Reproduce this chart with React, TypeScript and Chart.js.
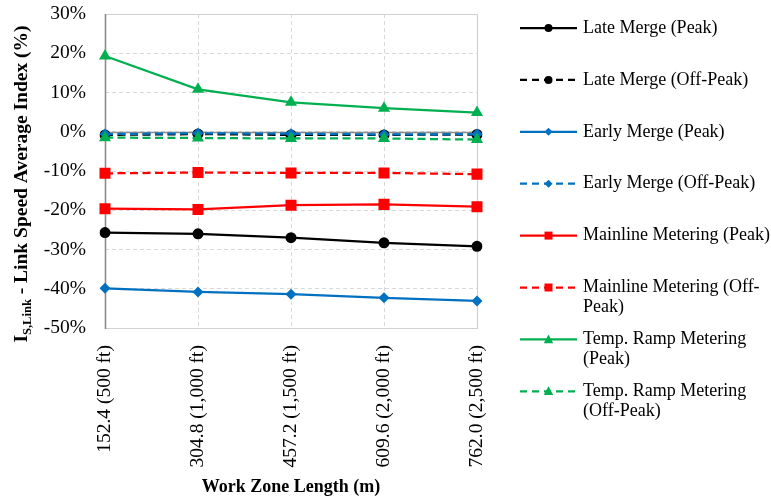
import React, { useEffect, useRef } from "react";
import { Chart, registerables } from "chart.js";

Chart.register(...registerables);

// Work zone lengths (x categories)
const lengths = [
  "152.4 (500 ft)",
  "304.8 (1,000 ft)",
  "457.2 (1,500 ft)",
  "609.6 (2,000 ft)",
  "762.0 (2,500 ft)",
];

// Link speed average index, in percent
const lateMergePeak = [-25.7, -26.0, -27.0, -28.3, -29.2];
const lateMergeOffPeak = [-0.8, -0.6, -0.8, -0.8, -0.7];
const earlyMergePeak = [-39.9, -40.8, -41.4, -42.3, -43.1];
const earlyMergeOffPeak = [-0.6, -0.4, -0.5, -0.7, -0.6];
const mainlinePeak = [-19.6, -19.8, -18.7, -18.5, -19.1];
const mainlineOffPeak = [-10.6, -10.4, -10.5, -10.5, -10.8];
const rampPeak = [19.3, 10.8, 7.5, 6.0, 4.9];
const rampOffPeak = [-1.5, -1.6, -1.7, -1.7, -2.0];

const seriesNames = [
  "Late Merge (Peak)",
  "Late Merge (Off-Peak)",
  "Early Merge (Peak)",
  "Early Merge (Off-Peak)",
  "Mainline Metering (Peak)",
  "Mainline Metering (Off-Peak)",
  "Temp. Ramp Metering (Peak)",
  "Temp. Ramp Metering (Off-Peak)",
];

// Legend text, broken into lines
const legendLines = [
  ["Late Merge (Peak)"],
  ["Late Merge (Off-Peak)"],
  ["Early Merge (Peak)"],
  ["Early Merge (Off-Peak)"],
  ["Mainline Metering (Peak)"],
  ["Mainline Metering (Off-", "Peak)"],
  ["Temp. Ramp Metering", "(Peak)"],
  ["Temp. Ramp Metering", "(Off-Peak)"],
];

const yMin = -50;
const yMax = 30;
const yStep = 10;

const xTitle = "Work Zone Length (m)";
const yTitleMain = "I";
const yTitleSub = "S,Link";
const yTitleRest = " - Link Speed Average Index (%)";

const BLACK = "#000000";
const BLUE = "#0070C0";
const RED = "#FF0000";
const GREEN = "#00B050";
const DASH = [8, 4.5];
const SERIF = "'Liberation Serif', 'Times New Roman', serif";

type Style = { color: string; dashed: boolean; point: string; radius: number };
const styles: Style[] = [
  { color: BLACK, dashed: false, point: "circle", radius: 5.5 },
  { color: BLACK, dashed: true, point: "circle", radius: 5.5 },
  { color: BLUE, dashed: false, point: "rectRot", radius: 5.5 },
  { color: BLUE, dashed: true, point: "rectRot", radius: 5.5 },
  { color: RED, dashed: false, point: "rect", radius: 7.8 },
  { color: RED, dashed: true, point: "rect", radius: 7.8 },
  { color: GREEN, dashed: false, point: "triangle", radius: 7 },
  { color: GREEN, dashed: true, point: "triangle", radius: 7 },
];

const seriesValues = [
  lateMergePeak,
  lateMergeOffPeak,
  earlyMergePeak,
  earlyMergeOffPeak,
  mainlinePeak,
  mainlineOffPeak,
  rampPeak,
  rampOffPeak,
];

function drawMarker(ctx: CanvasRenderingContext2D, kind: string, x: number, y: number, r: number) {
  ctx.beginPath();
  if (kind === "circle") {
    ctx.arc(x, y, r, 0, Math.PI * 2);
  } else if (kind === "rect") {
    ctx.rect(x - r, y - r, 2 * r, 2 * r);
  } else if (kind === "rectRot") {
    ctx.moveTo(x, y - r);
    ctx.lineTo(x + r, y);
    ctx.lineTo(x, y + r);
    ctx.lineTo(x - r, y);
    ctx.closePath();
  } else {
    ctx.moveTo(x, y - r);
    ctx.lineTo(x + r * 0.95, y + r * 0.75);
    ctx.lineTo(x - r * 0.95, y + r * 0.75);
    ctx.closePath();
  }
  ctx.fill();
}

// Solid frame, axis lines and zero line on top of the dashed grid
const framePlugin = {
  id: "frame",
  beforeDatasetsDraw(chart: any) {
    const { ctx, chartArea: a, scales } = chart;
    const zeroY = Math.round(scales.y.getPixelForValue(0)) + 0.5;
    ctx.save();
    ctx.setLineDash([]);
    ctx.strokeStyle = "#d0d0d0";
    ctx.lineWidth = 1.2;
    ctx.beginPath();
    ctx.moveTo(a.left, a.top + 0.5);
    ctx.lineTo(a.right + 0.5, a.top + 0.5);
    ctx.lineTo(a.right + 0.5, a.bottom + 0.5);
    ctx.lineTo(a.left, a.bottom + 0.5);
    ctx.stroke();
    ctx.strokeStyle = "#8c8c8c";
    ctx.lineWidth = 1.6;
    ctx.beginPath();
    ctx.moveTo(a.left, zeroY);
    ctx.lineTo(a.right, zeroY);
    ctx.stroke();
    ctx.beginPath();
    ctx.moveTo(a.left + 0.5, a.top);
    ctx.lineTo(a.left + 0.5, a.bottom + 1);
    ctx.stroke();
    ctx.restore();
  },
};

// Axis titles and the side legend
const textPlugin = {
  id: "texts",
  afterDraw(chart: any) {
    const { ctx, chartArea: a } = chart;
    ctx.save();
    ctx.fillStyle = "#000";

    // x title
    ctx.font = `bold 18px ${SERIF}`;
    ctx.textAlign = "center";
    ctx.textBaseline = "middle";
    ctx.fillText(xTitle, (a.left + a.right) / 2, 487);

    // y title with subscript
    const bigFont = `bold 19.5px ${SERIF}`;
    const subFont = `bold 12.5px ${SERIF}`;
    ctx.font = bigFont;
    const w1 = ctx.measureText(yTitleMain).width;
    const w3 = ctx.measureText(yTitleRest).width;
    ctx.font = subFont;
    const w2 = ctx.measureText(yTitleSub).width;
    const total = w1 + w2 + w3;
    ctx.translate(20, 184);
    ctx.rotate(-Math.PI / 2);
    ctx.textAlign = "left";
    ctx.textBaseline = "alphabetic";
    let x = -total / 2;
    ctx.font = bigFont;
    ctx.fillText(yTitleMain, x, 6.5);
    x += w1;
    ctx.font = subFont;
    ctx.fillText(yTitleSub, x, 10.5);
    x += w2;
    ctx.font = bigFont;
    ctx.fillText(yTitleRest, x, 6.5);
    ctx.setTransform(1, 0, 0, 1, 0, 0);

    // legend
    const x0 = 520;
    const x1 = 577;
    const xm = 548.5;
    const tx = 583;
    chart.data.datasets.forEach((ds: any, i: number) => {
      const st = styles[i];
      const y = 28 + i * 51.9;
      ctx.strokeStyle = st.color;
      ctx.fillStyle = st.color;
      ctx.lineWidth = 2.25;
      ctx.setLineDash(st.dashed ? [7, 5] : []);
      ctx.beginPath();
      ctx.moveTo(x0, y);
      ctx.lineTo(x1, y);
      ctx.stroke();
      ctx.setLineDash([]);
      const mr = st.point === "triangle" ? 5 : 4;
      drawMarker(ctx, st.point, xm, y, mr);
      ctx.fillStyle = "#000";
      ctx.font = `18px ${SERIF}`;
      ctx.textAlign = "left";
      ctx.textBaseline = "middle";
      legendLines[i].forEach((line, k) => ctx.fillText(line, tx, y + k * 20));
    });
    ctx.restore();
  },
};

export default function App() {
  const canvasRef = useRef<HTMLCanvasElement | null>(null);

  useEffect(() => {
    const canvas = canvasRef.current;
    if (!canvas) return;
    const datasets = seriesValues.map((values, i) => {
      const st = styles[i];
      return {
        label: seriesNames[i],
        data: values,
        borderColor: st.color,
        backgroundColor: st.color,
        borderWidth: 2.25,
        borderDash: st.dashed ? DASH : [],
        pointStyle: st.point,
        pointRadius: st.radius,
        pointBackgroundColor: st.color,
        pointBorderColor: st.color,
        pointBorderWidth: 0,
        tension: 0,
        fill: false,
        order: seriesValues.length - i,
      };
    });

    const chart = new Chart(canvas, {
      type: "line",
      data: { labels: lengths, datasets },
      options: {
        responsive: false,
        animation: false,
        layout: { padding: { left: 0, top: 14, right: 294, bottom: 0 } },
        plugins: {
          legend: { display: false },
          tooltip: { enabled: false },
        },
        scales: {
          x: {
            type: "category",
            offset: false,
            grid: { color: "#d9d9d9", lineWidth: 1, drawTicks: false, offset: false },
            border: { display: false, dash: [4, 3] },
            ticks: {
              autoSkip: false,
              minRotation: 90,
              maxRotation: 90,
              padding: 17,
              color: "#000",
              font: { family: SERIF, size: 19.5 },
            },
            afterFit: (s: any) => {
              s.height = 171;
              s.paddingLeft = 0;
              s.paddingRight = 0;
            },
          },
          y: {
            min: yMin,
            max: yMax,
            grid: { color: "#d9d9d9", lineWidth: 1, drawTicks: false },
            border: { display: false, dash: [4, 3] },
            ticks: {
              stepSize: yStep,
              padding: 19,
              color: "#000",
              font: { family: SERIF, size: 19.5 },
              callback: (v: any) => `${v}%`,
            },
            afterFit: (s: any) => {
              s.width = 105;
              s.paddingTop = 0;
              s.paddingBottom = 0;
            },
          },
        },
      },
      plugins: [framePlugin, textPlugin],
    } as any);

    return () => chart.destroy();
  }, []);

  return (
    <div style={{ position: "fixed", left: 0, top: 0, width: 771, height: 499, background: "#fff" }}>
      <canvas ref={canvasRef} width={771} height={499} />
    </div>
  );
}
